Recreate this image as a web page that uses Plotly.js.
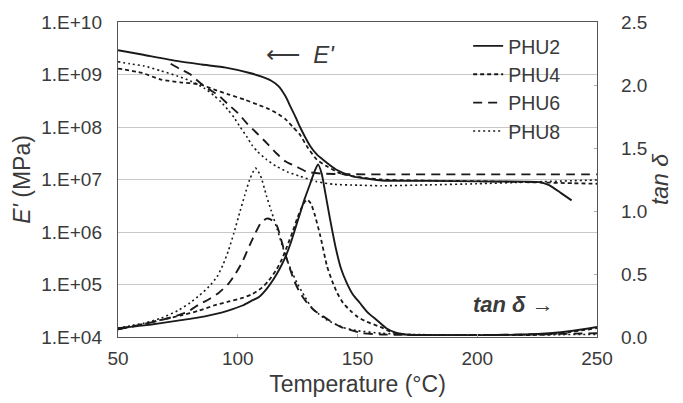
<!DOCTYPE html>
<html>
<head>
<meta charset="utf-8">
<script src="https://cdn.plot.ly/plotly-3.0.1.min.js"></script>
<style>html,body{margin:0;padding:0;background:#fff;}#chart{width:683px;height:403px;}</style>
</head>
<body>
<div id="chart"></div>
<script>
// ---- Storage modulus E' (MPa) ----
const tE_PHU2 = [50, 60, 75, 85, 95, 105, 110, 114, 117, 120, 122, 124, 126, 128, 130.3, 133, 136, 141, 148, 155, 160, 180, 200, 220, 226, 230, 235, 239.4];
const E_PHU2  = [2.9e9, 2.4e9, 1.8e9, 1.55e9, 1.35e9, 1.07e9, 9.1e8, 7.6e8, 6.0e8, 3.8e8, 2.45e8, 1.6e8, 1.0e8, 6.6e7, 4.3e7, 3.0e7, 2.3e7, 1.55e7, 1.15e7, 1.02e7, 9.6e6, 9.4e6, 9.2e6, 9.1e6, 8.9e6, 7.8e6, 5.5e6, 4.0e6];

const tE_PHU4 = [50, 60, 68, 76, 84, 90, 96, 103, 109, 113, 117, 120, 123, 126, 129, 133, 137, 143, 150, 160, 180, 200, 220, 240, 250];
const E_PHU4  = [1.3e9, 1.07e9, 8.0e8, 7.1e8, 6.5e8, 5.2e8, 4.2e8, 3.3e8, 2.6e8, 2.2e8, 1.75e8, 1.4e8, 1.0e8, 7.1e7, 4.2e7, 2.4e7, 1.8e7, 1.3e7, 1.12e7, 1.0e7, 9.5e6, 9.3e6, 8.9e6, 8.5e6, 8.3e6];

const tE_PHU6 = [72, 76, 80, 84, 88, 92, 96, 100, 104, 108, 112, 116, 120, 124, 129, 135, 145, 170, 200, 230, 250];
const E_PHU6  = [1.6e9, 1.26e9, 1.02e9, 7.1e8, 5.2e8, 4.0e8, 2.7e8, 1.85e8, 1.15e8, 7.6e7, 5.0e7, 3.2e7, 2.2e7, 1.8e7, 1.4e7, 1.3e7, 1.26e7, 1.25e7, 1.25e7, 1.25e7, 1.25e7];

const tE_PHU8 = [50, 55, 61, 68, 75, 80, 86, 90, 93, 96, 98.5, 101, 104, 106, 108, 112, 116, 121, 126, 133, 140, 150, 160, 180, 200, 220, 250];
const E_PHU8  = [1.75e9, 1.6e9, 1.45e9, 1.17e9, 9.3e8, 7.6e8, 5.5e8, 4.0e8, 3.0e8, 2.1e8, 1.5e8, 1.0e8, 6.3e7, 4.5e7, 3.5e7, 2.4e7, 1.8e7, 1.38e7, 1.15e7, 9.1e6, 8.1e6, 7.8e6, 7.6e6, 7.9e6, 8.3e6, 8.9e6, 9.8e6];

// ---- tan delta ----
const tT_PHU2 = [50, 60, 68, 75, 82, 90, 96, 102, 106, 109, 112, 115, 118, 120, 122, 124, 126, 128, 130.3, 132, 133.5, 135, 136.5, 138.5, 141, 143, 145.5, 148, 151, 154, 158, 162, 166, 170, 180, 200, 220, 230, 240, 250];
const tan_PHU2 = [0.07, 0.09, 0.11, 0.13, 0.15, 0.18, 0.21, 0.25, 0.29, 0.32, 0.38, 0.46, 0.56, 0.64, 0.74, 0.86, 0.98, 1.1, 1.22, 1.31, 1.37, 1.30, 1.15, 0.94, 0.7, 0.55, 0.43, 0.34, 0.27, 0.2, 0.135, 0.07, 0.035, 0.02, 0.015, 0.015, 0.02, 0.03, 0.05, 0.08];

const tT_PHU4 = [50, 60, 68, 76, 84, 90, 96, 102, 106, 110, 113, 116, 118.5, 120.6, 123, 125, 127.5, 129, 130.5, 132, 134.5, 137.3, 139.5, 141.5, 144, 147, 150, 154, 159.5, 164, 170, 200, 230, 250];
const tan_PHU4 = [0.06, 0.1, 0.135, 0.17, 0.21, 0.25, 0.28, 0.31, 0.34, 0.39, 0.45, 0.53, 0.62, 0.72, 0.84, 0.95, 1.06, 1.09, 1.06, 0.98, 0.80, 0.56, 0.44, 0.35, 0.27, 0.21, 0.16, 0.12, 0.08, 0.04, 0.02, 0.015, 0.02, 0.07];

const tT_PHU6 = [50, 60, 67, 73, 79, 84, 88, 92, 96, 99, 102, 105, 107.5, 109.5, 112, 114, 116.4, 118, 119.5, 121.5, 123.5, 126, 129, 132, 136, 140, 143, 148, 152, 160, 200, 250];
const tan_PHU6 = [0.06, 0.1, 0.13, 0.16, 0.2, 0.26, 0.3, 0.35, 0.42, 0.5, 0.6, 0.73, 0.83, 0.9, 0.94, 0.93, 0.88, 0.78, 0.68, 0.56, 0.45, 0.35, 0.27, 0.21, 0.16, 0.11, 0.08, 0.05, 0.03, 0.02, 0.015, 0.03];

const tT_PHU8 = [50, 55, 61, 68, 75, 80, 84, 88, 91.4, 94, 96, 98.3, 101, 103, 105, 107.4, 109.5, 112, 114, 116.4, 118.5, 120.8, 123, 125, 128, 131, 134, 137.3, 141, 145, 150, 160, 170, 250];
const tan_PHU8 = [0.07, 0.09, 0.11, 0.15, 0.21, 0.27, 0.33, 0.4, 0.48, 0.58, 0.68, 0.82, 1.0, 1.13, 1.25, 1.34, 1.28, 1.12, 1.0, 0.86, 0.73, 0.6, 0.5, 0.42, 0.32, 0.23, 0.18, 0.135, 0.1, 0.07, 0.05, 0.03, 0.02, 0.02];

const names = ['PHU2', 'PHU4', 'PHU6', 'PHU8'];
const yTickVals = [1e4, 1e5, 1e6, 1e7, 1e8, 1e9, 1e10];
const yTickText = ['1.E+04', '1.E+05', '1.E+06', '1.E+07', '1.E+08', '1.E+09', '1.E+10'];
const xTickVals = [50, 100, 150, 200, 250];
const y2TickVals = [0, 0.5, 1.0, 1.5, 2.0, 2.5];

const dashes = ['solid', '4px,3px', '9px,6px', '2px,3px'];
const widths = [1.9, 1.8, 1.9, 1.6];
const Es = [[tE_PHU2, E_PHU2], [tE_PHU4, E_PHU4], [tE_PHU6, E_PHU6], [tE_PHU8, E_PHU8]];
const Ts = [[tT_PHU2, tan_PHU2], [tT_PHU4, tan_PHU4], [tT_PHU6, tan_PHU6], [tT_PHU8, tan_PHU8]];

const traces = [];
names.forEach((n, i) => {
  traces.push({x: Es[i][0], y: Es[i][1], name: n, legendgroup: n, mode: 'lines', yaxis: 'y',
    line: {color: '#1a1a1a', width: widths[i], dash: dashes[i], shape: 'spline', smoothing: 0.6}});
});
names.forEach((n, i) => {
  traces.push({x: Ts[i][0], y: Ts[i][1], name: n, legendgroup: n, showlegend: false, mode: 'lines', yaxis: 'y2',
    line: {color: '#1a1a1a', width: widths[i], dash: dashes[i], shape: 'spline', smoothing: 0.6}});
});

const font = 'Liberation Sans, Arial, sans-serif';
const layout = {
  width: 683, height: 403,
  margin: {l: 118, r: 86, t: 22, b: 66},
  paper_bgcolor: '#fff', plot_bgcolor: '#fff',
  font: {family: font, color: '#3a3a3a', size: 19},
  showlegend: true,
  legend: {x: 0.731, y: 0.985, xanchor: 'left', yanchor: 'top', bgcolor: 'rgba(0,0,0,0)',
    font: {size: 19.5, color: '#3a3a3a'}, itemwidth: 30, tracegroupgap: 0},
  xaxis: {range: [50, 250], tickvals: xTickVals, showgrid: false, zeroline: false,
    showline: true, mirror: true, linecolor: '#555', linewidth: 1.2,
    ticks: 'inside', ticklen: 3, tickcolor: '#aaa', ticklabelstandoff: 4,
    tickfont: {size: 19}, title: {text: 'Temperature (°C)', font: {size: 23}, standoff: 7}},
  yaxis: {type: 'log', range: [4, 10], tickvals: yTickVals, ticktext: yTickText,
    showgrid: true, gridcolor: '#c8c8c8', gridwidth: 1, zeroline: false,
    showline: true, linecolor: '#555', linewidth: 1.2, ticks: '', ticklabelstandoff: 11,
    tickfont: {size: 19}, title: {text: "<i>E'</i> (MPa)", font: {size: 23}, standoff: 4}},
  yaxis2: {overlaying: 'y', side: 'right', range: [0, 2.5], tickvals: y2TickVals, tickformat: '.1f',
    showgrid: false, zeroline: false, showline: true, linecolor: '#555', linewidth: 1.2,
    ticks: 'inside', ticklen: 3, tickcolor: '#aaa', ticklabelstandoff: 19,
    tickfont: {size: 19}, title: {text: '<i>tan δ</i>', font: {size: 23}, standoff: 2}},
  annotations: [
    {xref: 'paper', yref: 'paper', x: 0.382, y: 0.897, xanchor: 'center', yanchor: 'middle',
      text: "⟵  <i>E'</i>", showarrow: false, font: {size: 24, color: '#3a3a3a'}},
    {xref: 'paper', yref: 'paper', x: 0.825, y: 0.102, xanchor: 'center', yanchor: 'middle',
      text: '<b><i>tan δ</i></b> →', showarrow: false, font: {size: 22, color: '#3a3a3a'}}
  ]
};

Plotly.newPlot('chart', traces, layout, {displayModeBar: false, staticPlot: true});
</script>
</body>
</html>
